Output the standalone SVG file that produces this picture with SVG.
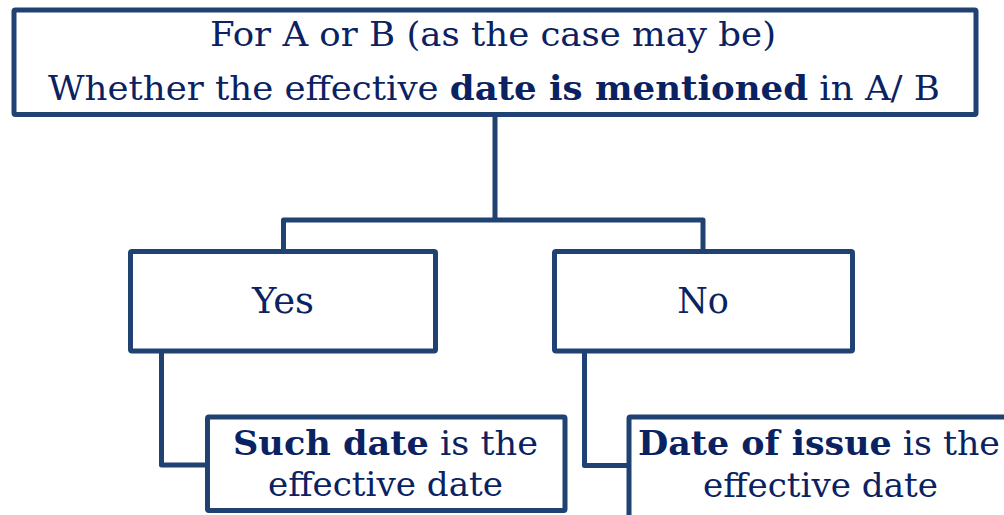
<svg xmlns="http://www.w3.org/2000/svg" width="1004" height="515" viewBox="0 0 1004 515">
<style>
.box{fill:#fff;stroke:#1F4273;stroke-width:5;stroke-linejoin:round}
.conn{fill:none;stroke:#1F4273;stroke-width:5;stroke-linejoin:round}
text{font-family:"DejaVu Serif","Liberation Serif",serif;fill:#0B2262;text-anchor:middle}
.b{font-weight:bold}
</style>
<rect width="1004" height="515" fill="#fff"/>
<g id="connectors">
<path class="conn" d="M495,114.5 V220 M283.5,251.5 V220 H703 V251.5"/>
<path class="conn" d="M161.5,351 V465 H207.5"/>
<path class="conn" d="M584.5,351 V465.5 H629"/>
</g>
<g id="node-top">
<rect class="box" x="14" y="10" width="962" height="104.5" rx="1.5"/>
<text x="493" y="46" font-size="33" textLength="566" lengthAdjust="spacingAndGlyphs">For A or B (as the case may be)</text>
<text x="494" y="100" font-size="34" textLength="892" lengthAdjust="spacingAndGlyphs">Whether the effective <tspan class="b">date is mentioned</tspan> in A/ B</text>
</g>
<g id="node-yes">
<rect class="box" x="130.5" y="251.5" width="305" height="99.5" rx="1.5"/>
<text x="283" y="313" font-size="35" textLength="62" lengthAdjust="spacingAndGlyphs">Yes</text>
</g>
<g id="node-no">
<rect class="box" x="554.5" y="251.5" width="298" height="99.5" rx="1.5"/>
<text x="703" y="313" font-size="35">No</text>
</g>
<g id="node-such-date">
<rect class="box" x="207.5" y="417" width="357.5" height="93.5" rx="1.5"/>
<text x="385.5" y="455" font-size="34" textLength="305" lengthAdjust="spacingAndGlyphs"><tspan class="b">Such date</tspan> is the</text>
<text x="385.5" y="496" font-size="34" textLength="235" lengthAdjust="spacingAndGlyphs">effective date</text>
</g>
<g id="node-date-of-issue">
<rect class="box" x="629" y="417" width="400" height="120" rx="1.5"/>
<text x="819" y="455" font-size="34" textLength="362" lengthAdjust="spacingAndGlyphs"><tspan class="b">Date of issue</tspan> is the</text>
<text x="820.5" y="497" font-size="34" textLength="235" lengthAdjust="spacingAndGlyphs">effective date</text>
</g>
</svg>
